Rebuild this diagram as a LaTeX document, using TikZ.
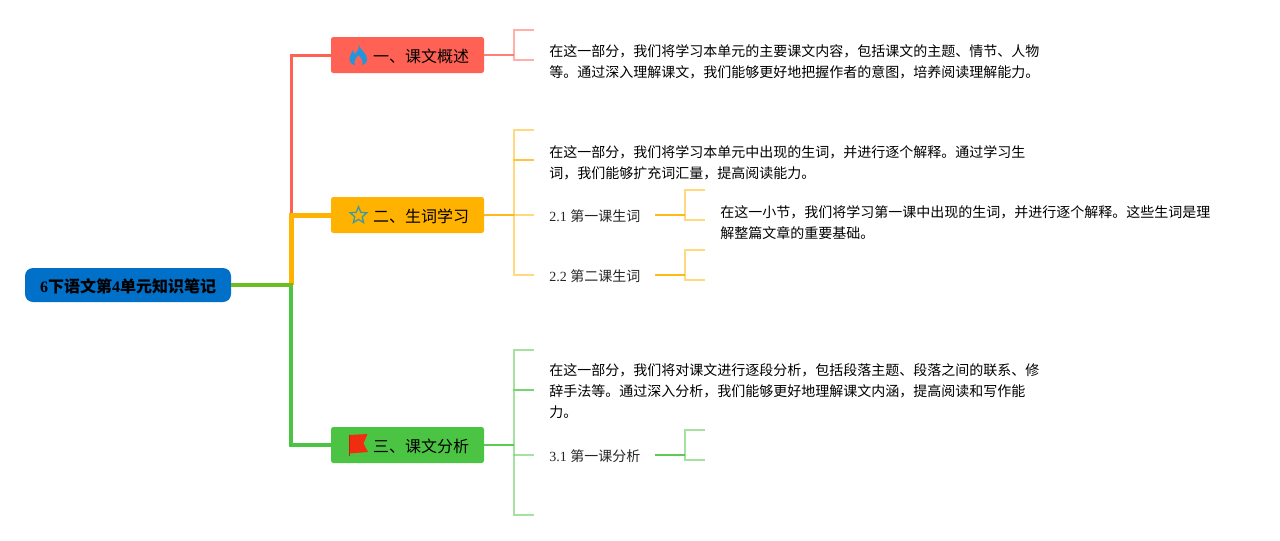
\documentclass[tikz,border=0pt]{standalone}
\usepackage{fontspec}
\setmainfont{Liberation Serif}
\newfontfamily\cjk{Noto Sans CJK SC}
\usetikzlibrary{shapes.geometric}
\definecolor{rootblue}{HTML}{0070C8}
\definecolor{redline}{HTML}{FF6154}
\definecolor{orangeline}{HTML}{FFB200}
\definecolor{greenline}{HTML}{4CC443}
\definecolor{linkgreen}{HTML}{6CBD24}
\definecolor{flameblue}{HTML}{2196DC}
\definecolor{starteal}{HTML}{3D9CA0}
\definecolor{flagred}{HTML}{F22C10}
\tikzset{
  rootbox/.style={fill=rootblue, rounded corners=6pt, minimum width=154.5pt, minimum height=25.5pt, inner sep=0pt,
    text height=10.7pt, text depth=0pt, font=\fontsize{12}{14}\selectfont\bfseries},
  topicbox/.style={rounded corners=1.8pt, minimum width=114.75pt, minimum height=27pt, inner sep=0pt,
    text height=10.7pt, text depth=0pt, font=\fontsize{12}{14}\selectfont\cjk},
  para/.style={anchor=west, align=left, inner sep=0pt, font=\fontsize{10.5}{15.75}\selectfont\cjk},
  subtopic/.style={anchor=west, inner sep=0pt, text=black!85, font=\fontsize{10.5}{14}\selectfont},
  trunk/.style={line width=#1, line cap=butt, line join=miter},
  stem/.style={line width=1.6pt},
  tick/.style={line width=1.3pt, opacity=0.5}
}
\begin{document}
\begin{tikzpicture}[x=0.75pt, y=-0.75pt]
\useasboundingbox (0,0) rectangle (1280,540);

% Boxes
\node[rootbox] (root) at (128,285) {6{\cjk\bfseries 下语文第}4{\cjk\bfseries 单元知识笔记}};
\node[topicbox, fill=redline] (topic1) at (407.5,55) {\hspace{20.25pt}一、课文概述};
\node[topicbox, fill=orangeline] (topic2) at (407.5,215) {\hspace{20.25pt}二、生词学习};
\node[topicbox, fill=greenline] (topic3) at (407.5,445) {\hspace{20.25pt}三、课文分析};

% Icons
\fill[flameblue] (359,45) .. controls (360,50) and (367,53) .. (367,59)
  .. controls (367,63) and (364,65) .. (362,65) .. controls (364,61) and (361,58) .. (358.5,55)
  .. controls (356,58) and (353,61) .. (355,65) .. controls (352,65) and (349,62) .. (349.5,58)
  .. controls (350,55) and (352,52) .. (353,50) .. controls (353.5,52) and (354,53) .. (355,54)
  .. controls (357,52) and (359,49) .. (359,45);
\node[star, star points=5, star point ratio=2.2, draw=starteal, line width=1pt, inner sep=2.1pt] (staricon) at (358.5,215.5) {};
\fill[flagred] (349,435) -- (367.5,434) -- (363.5,443.5) -- (368,452) -- (349,453.5) -- cycle;
\draw[flagred!80!black, line width=0.7pt] (349.3,435) -- (349.3,456);

% Text
\node[para] (text1) at (549,62.3) {在这一部分，我们将学习本单元的主要课文内容，包括课文的主题、情节、人物\\等。通过深入理解课文，我们能够更好地把握作者的意图，培养阅读理解能力。};
\node[para] (text2) at (549,162.3) {在这一部分，我们将学习本单元中出现的生词，并进行逐个解释。通过学习生\\词，我们能够扩充词汇量，提高阅读能力。};
\node[para] (text21) at (720,222.3) {在这一小节，我们将学习第一课中出现的生词，并进行逐个解释。这些生词是理\\解整篇文章的重要基础。};
\node[para] (text3) at (549,391.5) {在这一部分，我们将对课文进行逐段分析，包括段落主题、段落之间的联系、修\\辞手法等。通过深入分析，我们能够更好地理解课文内涵，提高阅读和写作能\\力。};
\node[subtopic] (sub21) at (549,216) {2.1 {\cjk 第一课生词}};
\node[subtopic] (sub22) at (549,276) {2.2 {\cjk 第二课生词}};
\node[subtopic] (sub31) at (549,456) {3.1 {\cjk 第一课分析}};

% Bracket points
\coordinate (trunkx) at (291,285);
\coordinate (bar1) at (514,55);
\coordinate (bar2) at (514,215);
\coordinate (bar3) at (514,445);
\coordinate (bar21) at (685,215);
\coordinate (bar22) at (685,275);
\coordinate (bar31) at (685,455);
\coordinate (out21) at (655,215);
\coordinate (out22) at (655,275);
\coordinate (out31) at (655,455);

% Main branches
\draw[trunk=2.25pt, redline] (trunkx) |- (topic1.west);
\draw[trunk=3.75pt, orangeline] (trunkx) |- (topic2.west);
\draw[trunk=3pt, greenline] (trunkx) |- (topic3.west);
\draw[trunk=3pt, linkgreen] (root.east) -- ([xshift=1.5pt]trunkx);

% Topic stems
\draw[stem, redline!80] (topic1.east) -- (bar1);
\draw[stem, orangeline!90] (topic2.east) -- (bar2);
\draw[stem, greenline!90] (topic3.east) -- (bar3);
\draw[stem, orangeline!90] (out21) -- (bar21);
\draw[stem, orangeline!90] (out22) -- (bar22);
\draw[stem, greenline!90] (out31) -- (bar31);

% Leaf ticks
\foreach \ya/\yb in {30/60} {
  \draw[tick, redline] (534,\ya) -| (514,\yb) -- (534,\yb);
}
\foreach \ya/\yb in {130/160, 160/275} {
  \draw[tick, orangeline] (534,\ya) -| (514,\yb) -- (534,\yb);
}
\draw[tick, orangeline] (bar2) -- (534,215);
\foreach \ya/\yb in {350/390, 390/515} {
  \draw[tick, greenline] (534,\ya) -| (514,\yb) -- (534,\yb);
}
\draw[tick, greenline] (514,455) -- (534,455);
\draw[tick, orangeline] (705,190) -| (bar21) |- (705,220);
\draw[tick, orangeline] (705,250) -| (bar22) |- (705,280);
\draw[tick, greenline] (705,430) -| (bar31) |- (705,460);
\end{tikzpicture}
\end{document}
